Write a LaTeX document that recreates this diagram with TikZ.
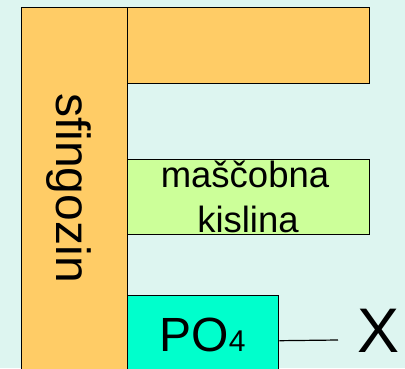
\documentclass[tikz,border=0pt]{standalone}
\usepackage{fontspec}
\setmainfont{Liberation Sans}
\definecolor{bgcyan}{HTML}{DDF5F0}
\definecolor{sphorange}{HTML}{FFCC66}
\definecolor{fagreen}{HTML}{CCFF99}
\definecolor{phcyan}{HTML}{00FFCC}
\tikzset{
  part/.style={draw=black, line width=1.4pt, rectangle, inner sep=0pt, anchor=north west},
  lbl/.style={inner sep=0pt, text=black},
}
\newcommand{\fs}[1]{\fontsize{#1}{#1}\selectfont}
\begin{document}
\begin{tikzpicture}[x=1pt, y=-1pt]
  \useasboundingbox (0,0) rectangle (405,368);
  \fill[bgcyan] (0,0) rectangle (405,368);
  \begin{scope}
    \clip (0,0) rectangle (405,368);
    % sphingosine backbone
    \node[part, fill=sphorange, minimum width=106pt, minimum height=380pt] (sfing) at (21,7) {};
    % first chain
    \node[part, fill=sphorange, minimum width=242pt, minimum height=76pt] (chain) at (127,7) {};
    % fatty acid
    \node[part, fill=fagreen, minimum width=242pt, minimum height=75pt] (fa) at (127,159) {};
    % phosphate group
    \node[part, fill=phcyan, minimum width=151pt, minimum height=90pt] (po) at (127,295) {};
  \end{scope}
  % labels
  \node[lbl, rotate=-90, font=\fs{48}] (sfingtxt) at (68.5,188) {sfingozin};
  \node[lbl, anchor=base, font=\fs{36.5}] (fa1) at (245,187) {maščobna};
  \node[lbl, anchor=base, font=\fs{36.5}] (fa2) at (248,232) {kislina};
  \node[lbl, anchor=base, font=\fs{48}] (potxt) at (202.5,351) {PO{\fs{30}4}};
  \node[lbl, anchor=base, font=\fs{63}] (xgrp) at (379,352) {X};
  % bond to the head group
  \coordinate (bondend) at (338,340);
  \draw[line width=1.2pt] (po.east) -- (bondend);
\end{tikzpicture}
\end{document}
